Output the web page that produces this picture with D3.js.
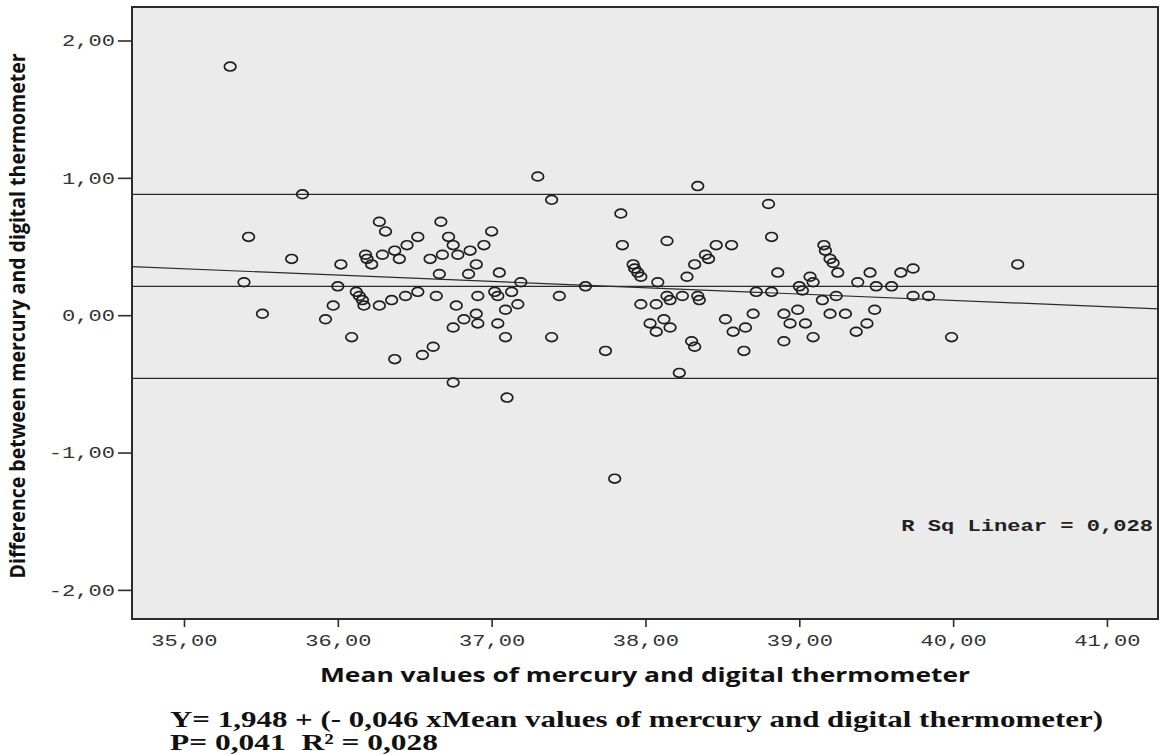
<!DOCTYPE html>
<html>
<head>
<meta charset="utf-8">
<script src="https://cdn.jsdelivr.net/npm/d3@7"></script>
<style>
  html, body { margin: 0; padding: 0; background: #ffffff; }
  svg { display: block; }
  text { white-space: pre; }
</style>
</head>
<body>
<svg id="chart" width="1161" height="754"></svg>
<script>
// ---- data ----
const meanValues = [
  35.30, 35.77, 35.42, 35.70, 35.39, 35.51, 36.02, 36.00, 35.97, 35.92,
  36.09, 36.12, 36.14, 36.16, 36.17, 36.18, 36.19, 36.22, 36.27, 36.31,
  36.29, 36.27, 36.35, 36.37, 36.37, 36.40, 36.44, 36.45, 36.52, 36.52,
  36.55, 36.60, 36.62, 36.64, 36.66, 36.67, 36.68, 36.72, 36.75, 36.78,
  36.77, 36.75, 36.75, 36.82, 36.85, 36.86, 36.90, 36.90, 36.91, 36.91,
  36.95, 37.00, 37.02, 37.04, 37.04, 37.05, 37.09, 37.09, 37.10, 37.13,
  37.17, 37.19, 37.30, 37.39, 37.39, 37.44, 37.61, 37.74, 37.80, 37.84,
  37.85, 37.92, 37.93, 37.95, 37.97, 37.97, 38.03, 38.07, 38.07, 38.08,
  38.12, 38.14, 38.14, 38.16, 38.16, 38.22, 38.24, 38.27, 38.30, 38.32,
  38.32, 38.34, 38.34, 38.35, 38.39, 38.41, 38.46, 38.52, 38.56, 38.57,
  38.64, 38.65, 38.70, 38.72, 38.80, 38.82, 38.82, 38.86, 38.90, 38.90,
  38.94, 38.99, 39.00, 39.02, 39.04, 39.07, 39.09, 39.09, 39.15, 39.16,
  39.17, 39.20, 39.22, 39.24, 39.25, 39.20, 39.30, 39.37, 39.38, 39.44,
  39.46, 39.49, 39.50, 39.60, 39.66, 39.74, 39.74, 39.84, 39.99, 40.42
];
const differences = [
  1.81, 0.88, 0.57, 0.41, 0.24, 0.01, 0.37, 0.21, 0.07, -0.03,
  -0.16, 0.17, 0.14, 0.11, 0.07, 0.44, 0.41, 0.37, 0.68, 0.61,
  0.44, 0.07, 0.11, -0.32, 0.47, 0.41, 0.14, 0.51, 0.57, 0.17,
  -0.29, 0.41, -0.23, 0.14, 0.30, 0.68, 0.44, 0.57, 0.51, 0.44,
  0.07, -0.09, -0.49, -0.03, 0.30, 0.47, 0.01, 0.37, 0.14, -0.06,
  0.51, 0.61, 0.17, 0.14, -0.06, 0.31, 0.04, -0.16, -0.60, 0.17,
  0.08, 0.24, 1.01, 0.84, -0.16, 0.14, 0.21, -0.26, -1.19, 0.74,
  0.51, 0.37, 0.34, 0.31, 0.28, 0.08, -0.06, 0.08, -0.12, 0.24,
  -0.03, 0.54, 0.14, -0.09, 0.11, -0.42, 0.14, 0.28, -0.19, -0.23,
  0.37, 0.94, 0.14, 0.11, 0.44, 0.41, 0.51, -0.03, 0.51, -0.12,
  -0.26, -0.09, 0.01, 0.17, 0.81, 0.57, 0.17, 0.31, 0.01, -0.19,
  -0.06, 0.04, 0.21, 0.18, -0.06, 0.28, 0.24, -0.16, 0.11, 0.51,
  0.47, 0.41, 0.38, 0.14, 0.31, 0.01, 0.01, -0.12, 0.24, -0.06,
  0.31, 0.04, 0.21, 0.21, 0.31, 0.34, 0.14, 0.14, -0.16, 0.37
];
const xTickValues = [35, 36, 37, 38, 39, 40, 41];
const xTickLabels = ["35,00", "36,00", "37,00", "38,00", "39,00", "40,00", "41,00"];
const yTickValues = [-2, -1, 0, 1, 2];
const yTickLabels = ["-2,00", "-1,00", "0,00", "1,00", "2,00"];
const referenceLines = [0.88, 0.21, -0.46];   // upper limit, mean difference, lower limit
const regressionIntercept = 1.948;
const regressionSlope = -0.046;
const xDomain = [34.662, 41.332];
const yDomain = [-2.212, 2.244];
const yAxisTitle = "Difference between mercury and digital thermometer";
const xAxisTitle = "Mean values of mercury and digital thermometer";
const fitLabel = "R Sq Linear = 0,028";
const formulaLine1 = "Y= 1,948 + (- 0,046 xMean values of mercury and digital thermometer)";
const formulaLine2 = "P= 0,041  R\u00B2 = 0,028";

// ---- layout ----
const plot = { left: 132, top: 7, right: 1158, bottom: 619 };
const svg = d3.select("#chart");
const x = d3.scaleLinear().domain(xDomain).range([plot.left, plot.right]);
const y = d3.scaleLinear().domain(yDomain).range([plot.bottom, plot.top]);
const ink = "#2b2b2b";
const monoFont = "'Liberation Mono', 'DejaVu Sans Mono', monospace";

// plot background
svg.append("rect")
  .attr("x", plot.left).attr("y", plot.top)
  .attr("width", plot.right - plot.left).attr("height", plot.bottom - plot.top)
  .attr("fill", "#ebebeb");

// axes
const xAxis = d3.axisBottom(x)
  .tickValues(xTickValues)
  .tickFormat((d, i) => xTickLabels[i])
  .tickSizeInner(8).tickSizeOuter(0).tickPadding(7);
const gx = svg.append("g").attr("transform", `translate(0,${plot.bottom})`).call(xAxis);
gx.select(".domain").remove();
gx.selectAll(".tick line").attr("stroke", ink).attr("stroke-width", 1.6);
gx.selectAll(".tick text")
  .attr("fill", "#333").attr("font-family", monoFont).attr("font-size", 17)
  .attr("transform", "scale(1.3,1)");

const yAxis = d3.axisLeft(y)
  .tickValues(yTickValues)
  .tickFormat((d, i) => yTickLabels[i])
  .tickSizeInner(14).tickSizeOuter(0).tickPadding(0);
const gy = svg.append("g").attr("transform", `translate(${plot.left},0)`).call(yAxis);
gy.select(".domain").remove();
gy.selectAll(".tick line").attr("stroke", ink).attr("stroke-width", 1.6);
gy.selectAll(".tick text")
  .attr("x", -13)
  .attr("fill", "#333").attr("font-family", monoFont).attr("font-size", 17)
  .attr("transform", "scale(1.3,1)");

// reference lines (mean and limits of agreement)
svg.append("g").selectAll("line").data(referenceLines).join("line")
  .attr("x1", plot.left).attr("x2", plot.right)
  .attr("y1", d => y(d)).attr("y2", d => y(d))
  .attr("stroke", ink).attr("stroke-width", 1.3);

// regression line
svg.append("line")
  .attr("x1", x(xDomain[0])).attr("x2", x(xDomain[1]))
  .attr("y1", y(regressionIntercept + regressionSlope * xDomain[0]))
  .attr("y2", y(regressionIntercept + regressionSlope * xDomain[1]))
  .attr("stroke", ink).attr("stroke-width", 1.2);

// points
const pts = meanValues.map((m, i) => ({ m, d: differences[i] }));
svg.append("g").selectAll("ellipse").data(pts).join("ellipse")
  .attr("cx", p => x(p.m)).attr("cy", p => y(p.d))
  .attr("rx", 5.8).attr("ry", 4.4)
  .attr("fill", "none").attr("stroke", "#1e1e1e").attr("stroke-width", 1.7);

// frame
svg.append("rect")
  .attr("x", plot.left).attr("y", plot.top)
  .attr("width", plot.right - plot.left).attr("height", plot.bottom - plot.top)
  .attr("fill", "none").attr("stroke", ink).attr("stroke-width", 2);

// fit label
svg.append("text")
  .attr("transform", "translate(1153,531) scale(1.3,1)")
  .attr("text-anchor", "end")
  .attr("font-family", monoFont).attr("font-size", 17).attr("font-weight", "bold")
  .attr("fill", "#222")
  .text(fitLabel);

// axis titles
svg.append("text")
  .attr("transform", "translate(25,316) rotate(-90) scale(1,1.3)")
  .attr("text-anchor", "middle")
  .attr("font-family", "'Open Sans', sans-serif").attr("font-weight", "bold").attr("font-size", 17)
  .attr("textLength", 525).attr("lengthAdjust", "spacingAndGlyphs")
  .attr("fill", "#111")
  .text(yAxisTitle);

svg.append("text")
  .attr("x", 645).attr("y", 682)
  .attr("text-anchor", "middle")
  .attr("font-family", "'Open Sans', sans-serif").attr("font-weight", "bold").attr("font-size", 20)
  .attr("textLength", 650).attr("lengthAdjust", "spacingAndGlyphs")
  .attr("fill", "#111")
  .text(xAxisTitle);

// regression formula
svg.append("text")
  .attr("x", 170).attr("y", 727)
  .attr("font-family", "'Liberation Serif', serif").attr("font-weight", "bold").attr("font-size", 23)
  .attr("textLength", 933).attr("lengthAdjust", "spacingAndGlyphs")
  .attr("fill", "#111")
  .text(formulaLine1);
svg.append("text")
  .attr("x", 170).attr("y", 750)
  .attr("font-family", "'Liberation Serif', serif").attr("font-weight", "bold").attr("font-size", 23)
  .attr("textLength", 268).attr("lengthAdjust", "spacingAndGlyphs")
  .attr("fill", "#111")
  .text(formulaLine2);
</script>
</body>
</html>
